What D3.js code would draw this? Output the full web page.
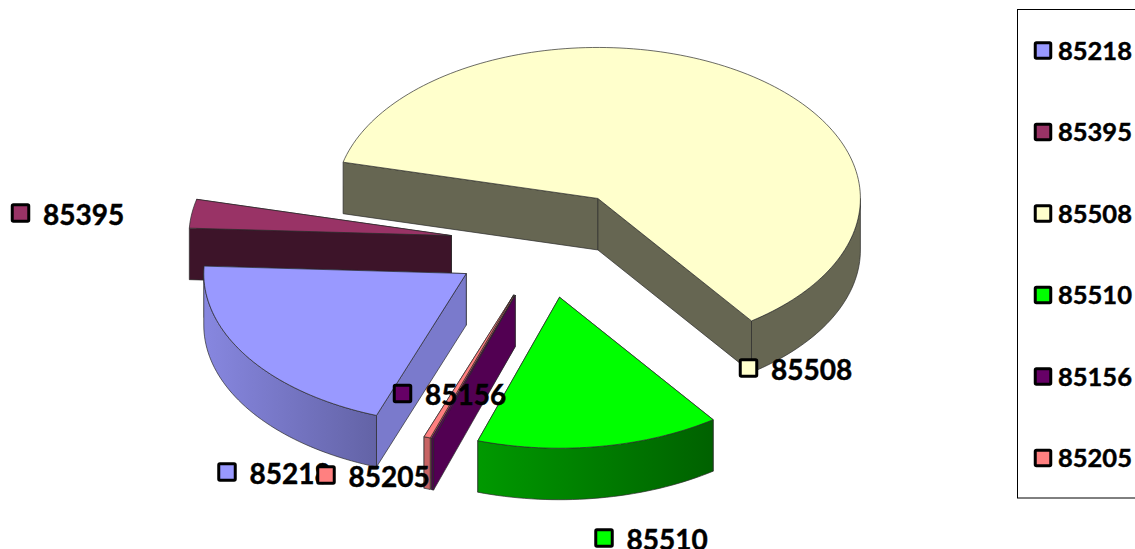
<!DOCTYPE html>
<html>
<head>
<meta charset="utf-8">
<script src="https://cdn.jsdelivr.net/npm/d3@7/dist/d3.min.js"></script>
<style>
html,body{margin:0;padding:0;background:#fff;overflow:hidden}
svg{display:block}
text{font-family:Lato,Carlito,sans-serif;font-weight:700;fill:#000;stroke:#000;stroke-width:.45px}
</style>
</head>
<body>
<svg id="chart" width="1135" height="549"></svg>
<script>
// Data
const categories = ["85218", "85395", "85508", "85510", "85156", "85205"];
const shares = [20.25, 3.08, 61.25, 15.0, 0.12, 0.4];
const colors = ["#9999FF", "#993366", "#FFFFCC", "#00FF00", "#660066", "#FF8080"];

// Shading of the side walls (style only)
const radialShade = [0.8, 0.4, 0.4, 0.4, 0.8, 0.8];
const curveShade = [[0.88, 0.65], [0.4, 0.4], [0.4, 0.4], [0.6, 0.38], [0.8, 0.8], [0.78, 0.78]];

// Layout
const W = 1135, H = 549;
const cx = 545, cy = 243.5, rx = 262.5, ry = 151, depth = 51.5, explode = 0.36;
const startDeg = 200;
const labelAnchors = {
  "85218": [227, 472], "85395": [20.5, 213], "85508": [748.5, 368],
  "85510": [604, 538], "85156": [402.5, 393.5], "85205": [326, 475]
};
const labelDrawOrder = ["85395", "85508", "85510", "85218", "85205", "85156"];

const rad = d => d * Math.PI / 180;
const svg = d3.select("#chart");
const defs = svg.append("defs");

const x = d3.scaleLinear().domain([-1, 1]).range([cx - rx, cx + rx]);
const y = d3.scaleLinear().domain([-1, 1]).range([cy - ry, cy + ry]);
const line = d3.line();

const pie = d3.pie().sort(null).value(d => d.value)
  .startAngle(rad(startDeg)).endAngle(rad(startDeg + 360));

const shade = (c, k) => {
  const r = d3.rgb(c);
  return d3.rgb(r.r * k, r.g * k, r.b * k).formatHex();
};

const slices = pie(categories.map((name, i) => ({
  name, value: shares[i], color: colors[i], radial: radialShade[i], curve: curveShade[i]
}))).map(s => {
  const m = (s.startAngle + s.endAngle) / 2;
  s.apex = [explode * Math.sin(m), -explode * Math.cos(m)];
  return s;
});

// Point of a slice at angle a, radius factor r, dropped by dz pixels
const pt = (s, a, r, dz = 0) => [
  x(s.apex[0] + r * Math.sin(a)),
  y(s.apex[1] - r * Math.cos(a)) + dz
];
const arcPts = (s, a0, a1, dz = 0) => {
  const n = Math.max(2, Math.ceil(Math.abs(a1 - a0) / rad(1.5)));
  return d3.range(n + 1).map(i => pt(s, a0 + (a1 - a0) * i / n, 1, dz));
};
const closed = pts => line(pts) + "Z";

const edge = "#2b2b2b";
const layer = svg.append("g");

// Back to front
[...slices].sort((a, b) => y(a.apex[1]) - y(b.apex[1])).forEach((s, idx) => {
  const g = layer.append("g");
  const c = s.data.color;

  // Radial walls, the one further back first
  [s.startAngle, s.endAngle]
    .sort((a, b) => pt(s, a, 1)[1] - pt(s, b, 1)[1])
    .forEach(a => {
      g.append("path")
        .attr("d", closed([pt(s, a, 0), pt(s, a, 1), pt(s, a, 1, depth), pt(s, a, 0, depth)]))
        .attr("fill", shade(c, s.data.radial))
        .attr("stroke", edge).attr("stroke-width", 0.7).attr("stroke-linejoin", "round");
    });

  // Outer curved wall: only the part facing the viewer (90 to 270 degrees)
  const segs = [[rad(90), rad(270)], [rad(450), rad(630)]];
  segs.forEach(([lo, hi]) => {
    const a0 = Math.max(lo, s.startAngle), a1 = Math.min(hi, s.endAngle);
    if (a1 <= a0) return;
    const top = arcPts(s, a0, a1), bottom = arcPts(s, a1, a0, depth);
    const xs = top.map(p => p[0]);
    const gid = "wall" + idx + "_" + Math.round(lo * 100);
    const grad = defs.append("linearGradient").attr("id", gid)
      .attr("gradientUnits", "userSpaceOnUse")
      .attr("x1", d3.min(xs)).attr("x2", d3.max(xs)).attr("y1", 0).attr("y2", 0);
    grad.append("stop").attr("offset", 0).attr("stop-color", shade(c, s.data.curve[0]));
    grad.append("stop").attr("offset", 1).attr("stop-color", shade(c, s.data.curve[1]));
    g.append("path")
      .attr("d", closed(top.concat(bottom)))
      .attr("fill", `url(#${gid})`)
      .attr("stroke", edge).attr("stroke-width", 0.7).attr("stroke-linejoin", "round");
  });

  // Top face
  g.append("path")
    .attr("d", closed([pt(s, 0, 0)].concat(arcPts(s, s.startAngle, s.endAngle))))
    .attr("fill", c)
    .attr("stroke", edge).attr("stroke-width", 0.7).attr("stroke-linejoin", "round");
});

// Marker helper
const marker = (g, mx, my, size, color) => g.append("rect")
  .attr("x", mx - size / 2).attr("y", my - size / 2)
  .attr("width", size).attr("height", size).attr("rx", 1.2)
  .attr("fill", color).attr("stroke", "#000").attr("stroke-width", 3);

// Data labels
const labels = svg.append("g");
labelDrawOrder.forEach(name => {
  const [mx, my] = labelAnchors[name];
  const color = colors[categories.indexOf(name)];
  const g = labels.append("g");
  marker(g, mx, my, 16.5, color);
  g.append("text").attr("x", mx + 22.5).attr("y", my + 0.5)
    .attr("dominant-baseline", "central")
    .attr("font-size", 28).text(name);
});

// Legend
const legend = svg.append("g");
legend.append("rect")
  .attr("x", 1017.5).attr("y", 9.5).attr("width", 140).attr("height", 488.5)
  .attr("fill", "#fff").attr("stroke", "#000").attr("stroke-width", 1);
const rowY = d3.scaleLinear().domain([0, categories.length - 1]).range([50.5, 458]);
categories.forEach((name, i) => {
  const yy = rowY(i);
  marker(legend, 1043, yy, 15.5, colors[i]);
  legend.append("text").attr("x", 1058).attr("y", yy - 1)
    .attr("dominant-baseline", "central")
    .attr("font-size", 25.5).text(name);
});
</script>
</body>
</html>
